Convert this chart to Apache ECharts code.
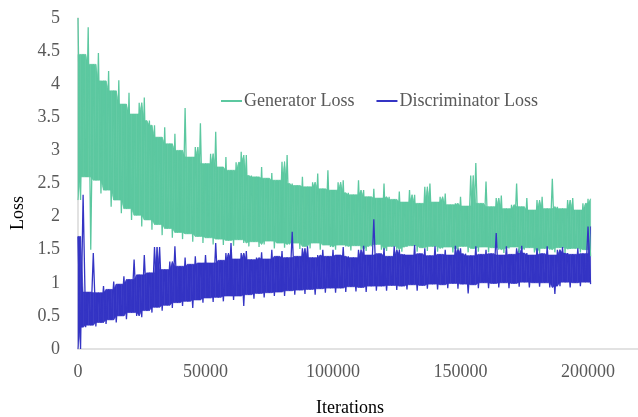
<!DOCTYPE html>
<html>
<head>
<meta charset="utf-8">
<title>Loss</title>
<script src="https://cdn.jsdelivr.net/npm/echarts@6/dist/echarts.min.js"></script>
<style>
  html, body { margin: 0; padding: 0; background: #fff; }
  #main { width: 638px; height: 417px; }
</style>
</head>
<body>
<div id="main"></div>
<script>
// one sample every 2000 iterations: the top of the trace at the sample, the bottom half way to the next one
const step = 2000
const genHigh = [
  5.0, 4.45, 4.86, 4.3, 4.47, 4.05, 4.2, 3.9, 4.06, 3.7,
  3.87, 3.55, 3.72, 3.8, 3.45, 3.38, 3.2, 3.35, 3.1, 3.25,
  3.0, 3.64, 2.9, 3.05, 3.41, 2.8, 2.95, 3.28, 2.75, 2.9,
  2.7, 2.82, 2.98, 2.93, 2.62, 2.6, 2.75, 2.58, 2.66, 2.55,
  2.83, 2.93, 2.5, 2.47, 2.6, 2.45, 2.52, 2.65, 2.42, 2.7,
  2.4, 2.52, 2.55, 2.36, 2.33, 2.55, 2.4, 2.3, 2.42, 2.28,
  2.5, 2.3, 2.26, 2.38, 2.22, 2.4, 2.33, 2.2, 2.45, 2.5,
  2.22, 2.3, 2.35, 2.18, 2.2, 2.3, 2.16, 2.62, 2.81, 2.2,
  2.53, 2.15, 2.28, 2.32, 2.12, 2.18, 2.5, 2.15, 2.28, 2.1,
  2.25, 2.3, 2.12, 2.57, 2.15, 2.12, 2.25, 2.28, 2.1, 2.2,
  2.27
]
const genLow = [
  2.25, 2.6, 1.5, 2.55, 2.35, 2.4, 2.15, 2.25, 2.05, 2.12,
  1.95, 2.02, 1.85, 1.95, 1.8, 1.88, 1.72, 1.82, 1.68, 1.76,
  1.66, 1.74, 1.62, 1.7, 1.6, 1.68, 1.58, 1.66, 1.57, 1.64,
  1.56, 1.65, 1.6, 1.55, 1.62, 1.54, 1.58, 1.63, 1.52, 1.6,
  1.53, 1.58, 1.6, 1.51, 1.55, 1.52, 1.6, 1.5, 1.57, 1.54,
  1.5, 1.57, 1.55, 1.49, 1.56, 1.5, 1.48, 1.55, 1.58, 1.5,
  1.48, 1.55, 1.5, 1.47, 1.54, 1.56, 1.47, 1.53, 1.48, 1.55,
  1.47, 1.52, 1.54, 1.46, 1.5, 1.55, 1.46, 1.52, 1.47, 1.54,
  1.46, 1.53, 1.5, 1.45, 1.52, 1.54, 1.45, 1.5, 1.53, 1.46,
  1.45, 1.52, 1.5, 1.46, 1.53, 1.45, 1.51, 1.52, 1.46, 1.5,
  1.4
]
const discHigh = [
  1.7, 2.33, 0.86, 1.45, 0.85, 0.95, 0.9, 1.02, 0.98, 1.1,
  1.05, 1.35, 1.12, 1.42, 1.15, 1.54, 1.54, 1.2, 1.32, 1.55,
  1.25, 1.38, 1.28, 1.4, 1.3, 1.42, 1.3, 1.6, 1.34, 1.45,
  1.6, 1.36, 1.45, 1.48, 1.35, 1.38, 1.46, 1.36, 1.5, 1.4,
  1.48, 1.38, 1.77, 1.4, 1.52, 1.55, 1.38, 1.42, 1.5, 1.4,
  1.5, 1.42, 1.54, 1.4, 1.38, 1.5, 1.56, 1.42, 1.96, 1.44,
  1.52, 1.4, 1.55, 1.5, 1.43, 1.42, 1.57, 1.44, 1.52, 1.41,
  1.55, 1.43, 1.5, 1.42, 1.56, 1.52, 1.44, 1.41, 1.55, 1.43,
  1.5, 1.44, 1.75, 1.42, 1.55, 1.43, 1.52, 1.56, 1.45, 1.42,
  1.52, 1.44, 1.55, 1.42, 1.5, 1.54, 1.45, 1.43, 1.52, 1.44,
  1.85
]
const discLow = [
  0, 0.33, 0.36, 0.34, 0.4, 0.38, 0.44, 0.4, 0.5, 0.45,
  0.55, 0.5, 0.48, 0.58, 0.55, 0.63, 0.58, 0.66, 0.62, 0.7,
  0.65, 0.72, 0.62, 0.74, 0.7, 0.77, 0.71, 0.78, 0.72, 0.8,
  0.74, 0.8, 0.65, 0.82, 0.76, 0.84, 0.78, 0.85, 0.8, 0.86,
  0.8, 0.88, 0.82, 0.89, 0.83, 0.9, 0.82, 0.91, 0.85, 0.92,
  0.85, 0.92, 0.86, 0.94, 0.87, 0.93, 0.86, 0.95, 0.88, 0.95,
  0.88, 0.96, 0.89, 0.95, 0.9, 0.97, 0.88, 0.96, 0.91, 0.98,
  0.9, 0.97, 0.92, 0.99, 0.91, 0.98, 0.84, 0.97, 0.92, 1.0,
  0.92, 0.99, 0.93, 1.0, 0.92, 0.99, 0.94, 1.01, 0.93, 1.0,
  0.94, 1.0, 0.93, 0.83, 0.95, 1.01, 0.93, 1.0, 0.95, 1.01,
  0.98
]
const yTicks = { min: 0, max: 5, interval: 0.5 }
const xTicks = { min: 0, max: 219600, interval: 50000 }

// the trace itself: up to the top, down to the bottom, sample after sample
function zigzag(high, low) {
  const pts = []
  for (let i = 0; i < high.length; i++) {
    pts.push([i * step, high[i]])
    pts.push([i * step + step / 2, low[i]])
  }
  return pts
}

// solid core under the trace, so only the spikes stick out of it.
// each item is one slice: [x0, bottom0, top0, x1, bottom1, top1]
function core(high, low) {
  const n = high.length
  const at = (a, i) => a[Math.max(0, Math.min(n - 1, i))]
  const pts = []
  for (let i = 0; i < n; i++) {
    let top = Math.min(at(high, i - 1), high[i], at(high, i + 1))
    let bot = Math.max(at(low, i - 1), low[i])
    pts.push([i * step, bot, Math.max(top, bot)])
    top = Math.min(high[i], at(high, i + 1))
    bot = Math.max(at(low, i - 1), low[i], at(low, i + 1))
    pts.push([i * step + step / 2, bot, Math.max(top, bot)])
  }
  const slices = []
  for (let k = 0; k < pts.length - 1; k++) {
    slices.push(pts[k].concat(pts[k + 1]))
  }
  return slices
}

function renderSlice(params, api) {
  const a = api.coord([api.value(0), api.value(2)])
  const b = api.coord([api.value(3), api.value(5)])
  const c = api.coord([api.value(3), api.value(4)])
  const d = api.coord([api.value(0), api.value(1)])
  const color = api.visual('color')
  return {
    type: 'polygon',
    shape: { points: [a, b, c, d] },
    style: { fill: color, stroke: color, lineWidth: 0.6 }
  }
}

function coreSeries(name, data, color) {
  return {
    name: name,
    type: 'custom',
    silent: true,
    color: color,
    renderItem: renderSlice,
    encode: { x: [0, 3], y: [1, 2, 4, 5] },
    data: data
  }
}

const green = '#5cc8a0'
const blue = '#3434c4'
const font = 'Liberation Serif'
const chart = echarts.init(document.getElementById('main'))
chart.setOption({
  animation: false,
  grid: { left: 78, right: 0, top: 18, bottom: 68 },
  legend: {
    left: 216,
    top: 87,
    itemWidth: 21,
    itemHeight: 2,
    itemGap: 22,
    icon: 'rect',
    textStyle: { fontFamily: font, fontSize: 18, color: '#595959', padding: [0, 0, 0, -3] },
    data: ['Generator Loss', 'Discriminator Loss']
  },
  xAxis: {
    type: 'value',
    min: xTicks.min,
    max: xTicks.max,
    interval: xTicks.interval,
    splitLine: { show: false },
    axisTick: { show: false },
    axisLine: { lineStyle: { color: '#d9d9d9', width: 1.5 } },
    axisLabel: {
      showMaxLabel: false, margin: 14, fontFamily: font, fontSize: 18, color: '#595959',
      formatter: v => String(v)
    }
  },
  yAxis: {
    type: 'value',
    min: yTicks.min,
    max: yTicks.max,
    interval: yTicks.interval,
    splitLine: { show: false },
    axisTick: { show: false },
    axisLine: { show: true, lineStyle: { color: '#d9d9d9', width: 1.5 } },
    axisLabel: { margin: 18, fontFamily: font, fontSize: 18, color: '#595959' }
  },
  graphic: [
    {
      type: 'text',
      x: 18, y: 213, rotation: Math.PI / 2,
      style: { text: 'Loss', fontFamily: font, fontSize: 18, fill: '#000', align: 'center', verticalAlign: 'middle' }
    },
    {
      type: 'text',
      x: 350, y: 408,
      style: { text: 'Iterations', fontFamily: font, fontSize: 18, fill: '#000', align: 'center', verticalAlign: 'middle' }
    }
  ],
  series: [
    coreSeries('genCore', core(genHigh, genLow), green),
    {
      name: 'Generator Loss',
      type: 'line',
      showSymbol: false,
      color: green,
      lineStyle: { width: 1.3 },
      data: zigzag(genHigh, genLow)
    },
    coreSeries('discCore', core(discHigh, discLow), blue),
    {
      name: 'Discriminator Loss',
      type: 'line',
      showSymbol: false,
      color: blue,
      lineStyle: { width: 1.3 },
      data: zigzag(discHigh, discLow)
    }
  ]
})
</script>
</body>
</html>
